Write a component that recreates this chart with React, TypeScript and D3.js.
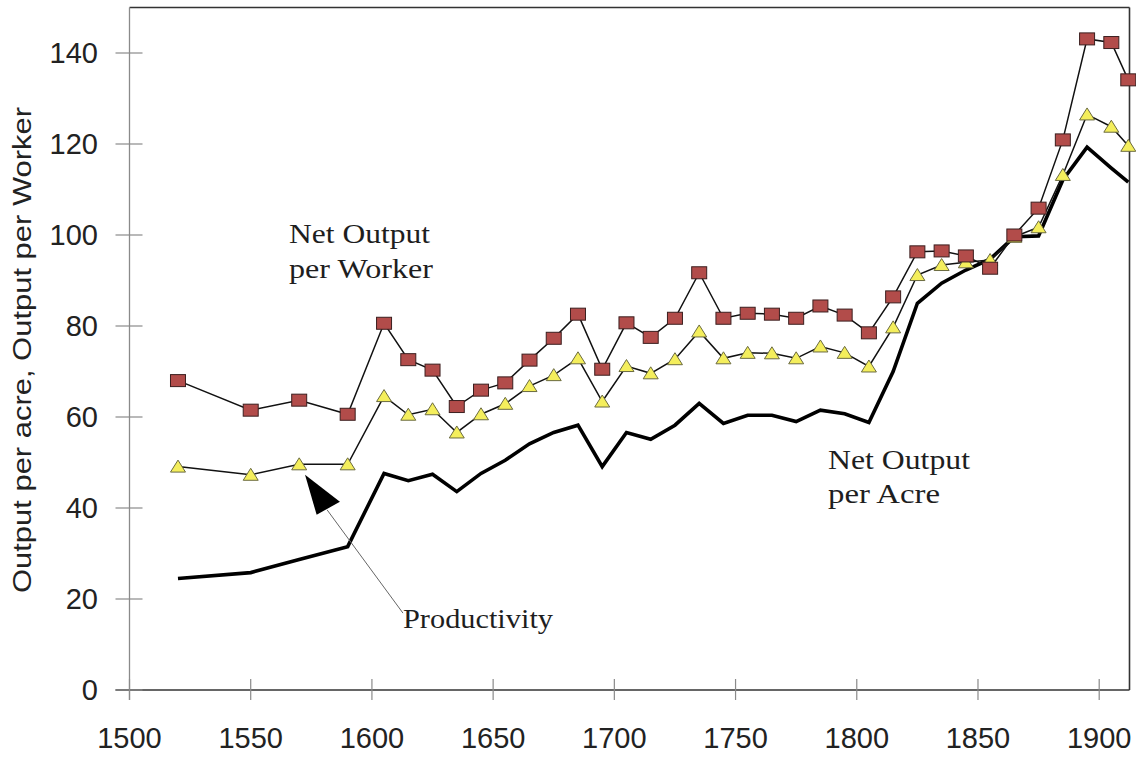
import React from "react";
import * as d3 from "d3";

const years = [1520,1550,1570,1590,1605,1615,1625,1635,1645,1655,1665,1675,1685,1695,1705,1715,1725,1735,1745,1755,1765,1775,1785,1795,1805,1815,1825,1835,1845,1855,1865,1875,1885,1895,1905,1912];
const workerOutput = [68,61.5,63.7,60.6,80.6,72.6,70.3,62.3,65.9,67.5,72.5,77.3,82.6,70.5,80.7,77.5,81.7,91.7,81.7,82.8,82.6,81.7,84.4,82.4,78.5,86.4,96.3,96.5,95.4,92.7,100,105.9,120.9,143.1,142.3,134.1];
const productivity = [49.1,47.3,49.6,49.6,64.6,60.5,61.7,56.6,60.6,62.9,66.8,69.2,72.9,63.4,71.2,69.6,72.7,78.8,72.9,74.1,74.0,72.9,75.5,74.1,71.1,79.7,91.2,93.4,94.0,94.5,99.6,101.7,113.2,126.5,123.8,119.6];
const acreOutput = [24.5,25.8,28.7,31.5,47.6,46.0,47.4,43.6,47.6,50.5,54.1,56.6,58.2,49.1,56.6,55.1,58.2,63.0,58.6,60.4,60.4,59.0,61.5,60.7,58.8,70.0,85.0,89.4,92.3,94.7,99.6,99.8,112.1,119.3,114.7,111.6];

const xTicks = [1500,1550,1600,1650,1700,1750,1800,1850,1900];
const yTicks = [0,20,40,60,80,100,120,140];
const yTitle = "Output per acre, Output per Worker";

const W = 1136, H = 758;

export default function App() {
  const x = d3.scaleLinear().domain([1500, 1912.5]).range([129.5, 1129.5]);
  const y = d3.scaleLinear().domain([0, 150]).range([690, 7.5]);
  const line = (vals: number[]) =>
    d3.line<number>().x((_, i) => x(years[i])).y((v) => y(v))(vals) || "";

  const left = x(1500), right = x(1912.5), top = y(150), bottom = y(0);
  const sans = "'Liberation Sans', Arial, sans-serif";
  const serif = "'Liberation Serif', 'Times New Roman', serif";

  // arrow annotation (data coordinates)
  const tip = [x(1572.4), y(47.3)];
  const b1 = [x(1577.2), y(38.5)];
  const b2 = [x(1586.8), y(41.4)];
  const lineStart = [x(1581.5), y(39.6)];
  const lineEnd = [x(1612.8), y(16.9)];

  return (
    <svg width={W} height={H} style={{ position: "absolute", left: 0, top: 0, background: "#fff" }}>
      <rect x={0} y={0} width={W} height={H} fill="#fff" />
      {/* frame */}
      <line x1={left} y1={top} x2={right} y2={top} stroke="#333" strokeWidth={1.6} />
      <line x1={right} y1={top} x2={right} y2={bottom} stroke="#333" strokeWidth={1.6} />
      <line x1={left} y1={top} x2={left} y2={bottom + 10} stroke="#8a8a8a" strokeWidth={1.3} />
      <line x1={left - 14} y1={bottom} x2={right} y2={bottom} stroke="#333" strokeWidth={1.6} />
      {/* y ticks */}
      {yTicks.map((t) => (
        <g key={"y" + t}>
          <line x1={left - 14} x2={left + 13} y1={y(t)} y2={y(t)} stroke="#8a8a8a" strokeWidth={1.2} />
          <text x={98} y={y(t)} dy="0.36em" textAnchor="end" fontFamily={sans} fontSize={29} fill="#222">{t}</text>
        </g>
      ))}
      {/* x ticks */}
      {xTicks.map((t) => (
        <g key={"x" + t}>
          <line x1={x(t)} x2={x(t)} y1={bottom - 11} y2={bottom + 10} stroke="#8a8a8a" strokeWidth={1.2} />
          <text x={x(t)} y={748} textAnchor="middle" fontFamily={sans} fontSize={29} fill="#222">{t}</text>
        </g>
      ))}
      {/* y title */}
      <text transform={`translate(31,350) rotate(-90)`} textAnchor="middle" fontFamily={sans} fontSize={26} fill="#222"
        textLength={486} lengthAdjust="spacingAndGlyphs">{yTitle}</text>

      {/* series lines */}
      <path d={line(acreOutput)} fill="none" stroke="#000" strokeWidth={3.6} strokeLinejoin="miter" />
      <path d={line(workerOutput)} fill="none" stroke="#111" strokeWidth={1.5} />
      <path d={line(productivity)} fill="none" stroke="#111" strokeWidth={1.5} />

      {/* markers */}
      {productivity.map((v, i) => {
        const cx = x(years[i]), cy = y(v);
        return (
          <path key={"t" + i} d={`M${cx},${cy - 6.5}L${cx + 7.5},${cy + 5.5}L${cx - 7.5},${cy + 5.5}Z`}
            fill="#f4ee5c" stroke="#6b6b40" strokeWidth={1} />
        );
      })}
      {workerOutput.map((v, i) => {
        const cx = x(years[i]), cy = y(v);
        return (
          <rect key={"s" + i} x={cx - 7.5} y={cy - 6} width={15} height={12}
            fill="#b24c4a" stroke="#3b1f1f" strokeWidth={1} />
        );
      })}

      {/* arrow annotation */}
      <line x1={lineStart[0]} y1={lineStart[1]} x2={lineEnd[0]} y2={lineEnd[1]} stroke="#666" strokeWidth={1} />
      <path d={`M${tip[0]},${tip[1]}L${b1[0]},${b1[1]}L${b2[0]},${b2[1]}Z`} fill="#000" />

      {/* labels */}
      <text x={289} y={243} fontFamily={serif} fontSize={27} fill="#1e1e1e" textLength={141} lengthAdjust="spacingAndGlyphs">Net Output</text>
      <text x={289} y={278} fontFamily={serif} fontSize={27} fill="#1e1e1e" textLength={144} lengthAdjust="spacingAndGlyphs">per Worker</text>
      <text x={828} y={469} fontFamily={serif} fontSize={27} fill="#1e1e1e" textLength={142} lengthAdjust="spacingAndGlyphs">Net Output</text>
      <text x={828} y={503} fontFamily={serif} fontSize={27} fill="#1e1e1e" textLength={112} lengthAdjust="spacingAndGlyphs">per Acre</text>
      <text x={403} y={628} fontFamily={serif} fontSize={27} fill="#1e1e1e" textLength={150} lengthAdjust="spacingAndGlyphs">Productivity</text>
    </svg>
  );
}
